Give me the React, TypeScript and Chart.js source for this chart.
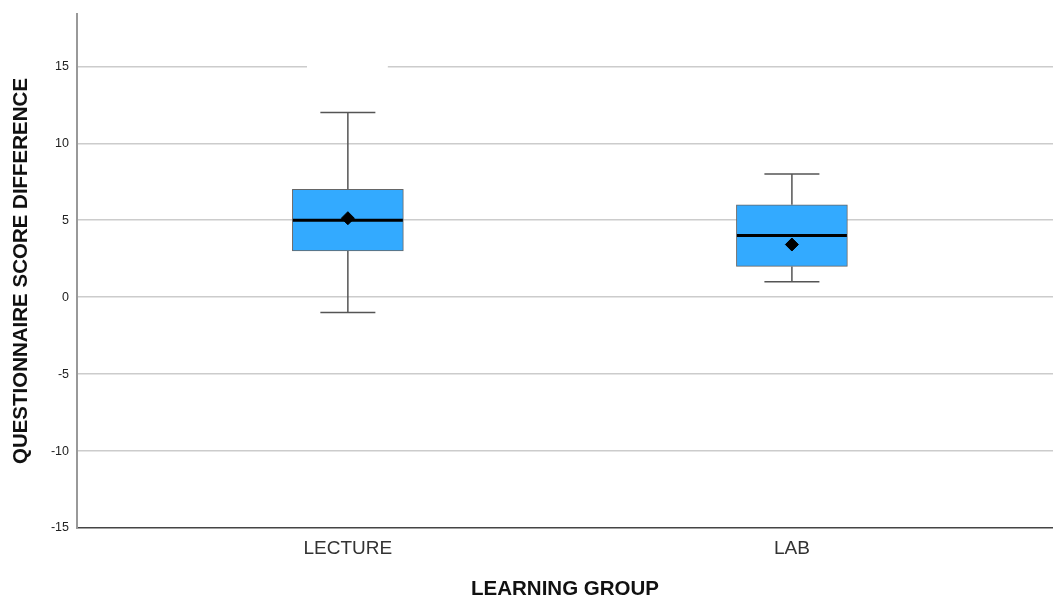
import React, { useEffect, useRef } from "react";
import { Chart, registerables } from "chart.js";

Chart.register(...registerables);

const categories = ["LECTURE", "LAB"];
const q1 = [3, 2];
const q3 = [7, 6];
const medians = [5, 4];
const whiskerLow = [-1, 1];
const whiskerHigh = [12, 8];
const means = [5.13, 3.42];
const yTicks = [-15, -10, -5, 0, 5, 10, 15];

const FONT = "'Liberation Sans', Arial, sans-serif";

const boxPlugin = {
  id: "boxExtras",
  beforeDatasetsDraw(chart: any) {
    const { ctx, scales } = chart;
    const x = scales.x;
    const y = scales.y;
    // gap in the 15 gridline above the first group
    ctx.save();
    ctx.fillStyle = "#ffffff";
    const gx0 = x.getPixelForValue(-0.092);
    const gx1 = x.getPixelForValue(0.09);
    const gy = y.getPixelForValue(15);
    ctx.fillRect(gx0, gy - 2, gx1 - gx0, 4);
    // whiskers
    ctx.strokeStyle = "#555555";
    ctx.lineWidth = 1.5;
    categories.forEach((_, i) => {
      const cx = x.getPixelForValue(i);
      const cap = 27.5;
      const yHi = y.getPixelForValue(whiskerHigh[i]);
      const yLo = y.getPixelForValue(whiskerLow[i]);
      const yQ3 = y.getPixelForValue(q3[i]);
      const yQ1 = y.getPixelForValue(q1[i]);
      ctx.beginPath();
      ctx.moveTo(cx, yHi);
      ctx.lineTo(cx, yQ3);
      ctx.moveTo(cx, yQ1);
      ctx.lineTo(cx, yLo);
      ctx.moveTo(cx - cap, yHi);
      ctx.lineTo(cx + cap, yHi);
      ctx.moveTo(cx - cap, yLo);
      ctx.lineTo(cx + cap, yLo);
      ctx.stroke();
    });
    ctx.restore();
  },
  afterDatasetDraw(chart: any, args: any) {
    if (args.index !== 0) return;
    const { ctx, scales } = chart;
    const x = scales.x;
    const y = scales.y;
    ctx.save();
    ctx.strokeStyle = "#000000";
    ctx.lineWidth = 3;
    categories.forEach((_, i) => {
      const cx = x.getPixelForValue(i);
      const ym = y.getPixelForValue(medians[i]);
      ctx.beginPath();
      ctx.moveTo(cx - 55, ym);
      ctx.lineTo(cx + 55, ym);
      ctx.stroke();
    });
    ctx.restore();
  },
};

export default function App() {
  const ref = useRef<HTMLCanvasElement>(null);
  useEffect(() => {
    document.body.style.margin = "0";
    const chart = new Chart(ref.current!, {
      type: "bar",
      data: {
        datasets: [
          {
            type: "bar",
            data: categories.map((_, i) => ({ x: i, y: [q1[i], q3[i]] })) as any,
            backgroundColor: "#33aaff",
            borderColor: "#666666",
            borderWidth: 1,
            borderSkipped: false,
            barThickness: 111,
            order: 2,
          } as any,
          {
            type: "scatter",
            data: categories.map((_, i) => ({ x: i, y: means[i] })),
            pointStyle: "rectRot",
            pointRadius: 6.5,
            backgroundColor: "#000000",
            borderColor: "#000000",
            order: 1,
          } as any,
        ],
      },
      options: {
        animation: false,
        responsive: false,
        maintainAspectRatio: false,
        layout: { autoPadding: false, padding: { top: 14, right: 0, left: 0, bottom: 0 } },
        plugins: { legend: { display: false }, tooltip: { enabled: false } },
        scales: {
          x: {
            type: "linear",
            offset: false,
            min: -0.61,
            max: 1.588,
            afterBuildTicks: (axis: any) => {
              axis.ticks = categories.map((_, i) => ({ value: i }));
            },
            afterFit: (axis: any) => {
              axis.height = 72;
              axis.paddingRight = 0;
              axis.paddingLeft = 0;
            },
            ticks: {
              callback: (v: any) => categories[v as number] ?? "",
              font: { family: FONT, size: 19 },
              color: "#333333",
              padding: 9,
              maxRotation: 0,
              autoSkip: false,
            },
            grid: { display: false, drawTicks: false, offset: false },
            border: { display: true, color: "#444444", width: 1.5 },
            title: {
              display: true,
              text: "LEARNING GROUP",
              font: { family: FONT, size: 20.5, weight: "bold", lineHeight: 1 },
              color: "#111111",
              padding: { top: 0, bottom: 0 },
            },
          },
          y: {
            type: "linear",
            min: -15,
            max: 18.4,
            afterBuildTicks: (axis: any) => {
              axis.ticks = yTicks.map((v) => ({ value: v }));
            },
            afterFit: (axis: any) => {
              axis.width = 77;
              axis.paddingTop = 0;
            },
            ticks: {
              font: { family: FONT, size: 12.5 },
              color: "#222222",
              padding: 8,
            },
            grid: {
              drawTicks: false,
              color: (c: any) => (c.tick && c.tick.value === -15 ? "rgba(0,0,0,0)" : "#cccccc"),
              lineWidth: 1.5,
            },
            border: { display: true, color: "#999999", width: 2 },
            title: {
              display: true,
              text: "QUESTIONNAIRE SCORE DIFFERENCE",
              font: { family: FONT, size: 20.5, weight: "bold" },
              color: "#111111",
              padding: { top: 9, bottom: 0 },
            },
          },
        },
      },
      plugins: [boxPlugin],
    } as any);
    return () => chart.destroy();
  }, []);
  return (
    <div style={{ position: "absolute", left: 0, top: 0, width: 1053, height: 600 }}>
      <canvas ref={ref} width={1053} height={600} style={{ width: 1053, height: 600 }} />
    </div>
  );
}
